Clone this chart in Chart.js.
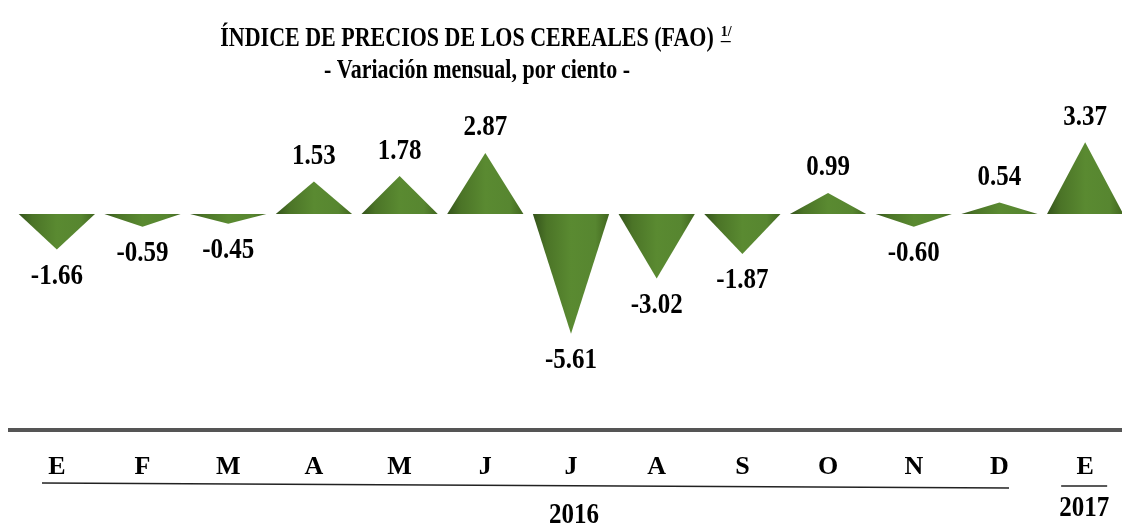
<!DOCTYPE html>
<html lang="es">
<head>
<meta charset="UTF-8">
<title>Índice de precios de los cereales (FAO)</title>
<script src="https://cdn.jsdelivr.net/npm/chart.js"></script>
<style>
  html, body { margin: 0; padding: 0; background: #fff; overflow: hidden; }
  #wrap { width: 1128px; height: 527px; position: relative; }
</style>
</head>
<body>
<div id="wrap"><canvas id="cereales"></canvas></div>
<script>
// datos
const meses = ['E', 'F', 'M', 'A', 'M', 'J', 'J', 'A', 'S', 'O', 'N', 'D', 'E'];
const variacion = [-1.66, -0.59, -0.45, 1.53, 1.78, 2.87, -5.61, -3.02, -1.87, 0.99, -0.60, 0.54, 3.37];
const anios = ['2016', '2017'];
const titulo = 'ÍNDICE DE PRECIOS DE LOS CEREALES (FAO)';
const subtitulo = '- Variación mensual, por ciento -';

const serif = '"Liberation Serif", "Times New Roman", serif';

// texto en negrita algo estirado en vertical, como en el original
function texto(ctx, s, x, y, size, sy, align) {
  ctx.save();
  ctx.font = 'bold ' + size + 'px ' + serif;
  ctx.fillStyle = '#000';
  ctx.textAlign = align || 'center';
  ctx.textBaseline = 'middle';
  ctx.translate(x, y);
  ctx.scale(1, sy);
  ctx.fillText(s, 0, 0);
  const w = ctx.measureText(s).width;
  ctx.restore();
  return w;
}

// triángulos con degradado en lugar de barras
const triangulos = {
  id: 'triangulos',
  afterDatasetsDraw(chart) {
    const ctx = chart.ctx;
    const meta = chart.getDatasetMeta(0);
    meta.data.forEach((bar, i) => {
      const half = bar.width / 2;
      const g = ctx.createLinearGradient(bar.x - half, 0, bar.x + half, 0);
      g.addColorStop(0, '#34531b');
      g.addColorStop(0.18, '#4b7427');
      g.addColorStop(0.5, '#5a8a31');
      g.addColorStop(0.82, '#578630');
      g.addColorStop(1, '#41661f');
      ctx.save();
      ctx.beginPath();
      ctx.moveTo(bar.x - half, bar.base);
      ctx.lineTo(bar.x + half, bar.base);
      ctx.lineTo(bar.x, bar.y);
      ctx.closePath();
      ctx.fillStyle = g;
      ctx.fill();
      ctx.restore();

      // etiqueta de valor
      const v = variacion[i];
      texto(ctx, v.toFixed(2), bar.x, v >= 0 ? bar.y - 25 : bar.y + 27, 25, 1.15);
    });
  }
};

// títulos, líneas del eje y años
const decoracion = {
  id: 'decoracion',
  afterDraw(chart) {
    const ctx = chart.ctx;
    const x = chart.scales.x;
    const w = texto(ctx, titulo, 467, 39, 22, 1.24);
    texto(ctx, '1/', 467 + w / 2 + 7, 32, 14, 1.1, 'left');
    ctx.save();
    ctx.fillStyle = '#000';
    ctx.fillRect(467 + w / 2 + 7, 41, 10, 1.2);
    ctx.restore();
    texto(ctx, subtitulo, 477, 71, 22, 1.24);

    ctx.save();
    // línea gruesa gris
    ctx.strokeStyle = '#555';
    ctx.lineWidth = 4;
    ctx.beginPath();
    ctx.moveTo(8, 430);
    ctx.lineTo(1128, 430);
    ctx.stroke();

    // subrayados de los años
    ctx.strokeStyle = '#222';
    ctx.lineWidth = 1.5;
    ctx.beginPath();
    ctx.moveTo(42, 483);
    ctx.lineTo(1009, 488);
    ctx.stroke();
    const xe = x.getPixelForValue(12);
    ctx.beginPath();
    ctx.moveTo(xe - 24, 486);
    ctx.lineTo(xe + 22, 486);
    ctx.stroke();
    ctx.restore();

    texto(ctx, anios[0], 574, 516, 25, 1.15);
    texto(ctx, anios[1], xe - 1, 509, 25, 1.15);
  }
};

new Chart(document.getElementById('cereales'), {
  type: 'bar',
  data: {
    labels: meses,
    datasets: [{
      data: variacion,
      backgroundColor: 'rgba(0,0,0,0)',
      borderWidth: 0,
      barPercentage: 1,
      categoryPercentage: 0.89
    }]
  },
  options: {
    responsive: true,
    maintainAspectRatio: false,
    animation: false,
    layout: { padding: { top: 100, left: 14, right: 0, bottom: 35 } },
    plugins: {
      legend: { display: false },
      title: { display: false },
      tooltip: { enabled: false }
    },
    scales: {
      y: { display: false, min: -6, max: 5.35 },
      x: {
        grid: { display: false },
        border: { display: false },
        afterFit(scale) {
          scale.height = 150;
          scale.paddingLeft = 0;
          scale.paddingRight = 0;
        },
        ticks: {
          padding: 102,
          maxRotation: 0,
          autoSkip: false,
          color: '#000',
          font: { family: serif, size: 26, weight: 'bold' }
        }
      }
    }
  },
  plugins: [triangulos, decoracion]
});
</script>
</body>
</html>
